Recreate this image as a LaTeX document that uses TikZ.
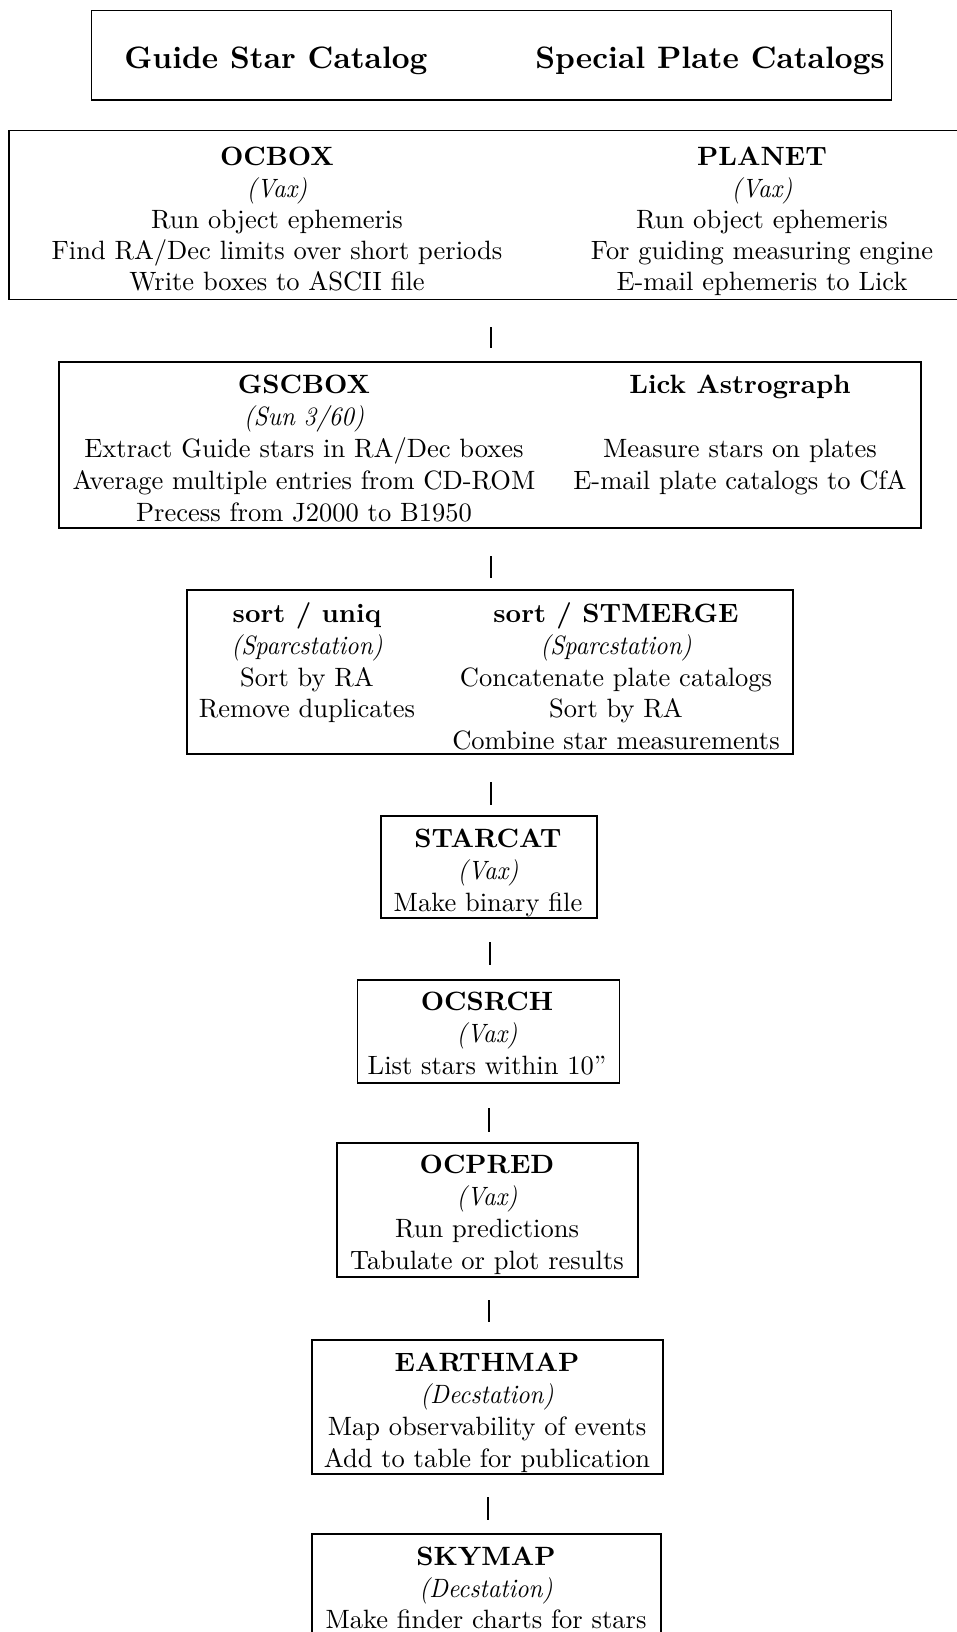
\documentclass[tikz,border=0pt]{standalone}
\usepackage{fontspec}
\newfontfamily\bodyrm{lmroman10-regular}[Extension=.otf, Ligatures=TeX]
\newfontfamily\bodyit{lmroman10-italic}[Extension=.otf, Ligatures=TeX, FakeStretch=0.93]
\newfontfamily\bodybf{lmroman10-bold}[Extension=.otf, Ligatures=TeX, FakeStretch=1.02]
\newfontfamily\titlebf{lmroman10-bold}[Extension=.otf, Ligatures=TeX]
\tikzset{
  box/.style={draw, line width=1.6pt, inner sep=0pt},
  ln/.style={anchor=base, inner sep=0pt, font=\bodyrm\fontsize{26.5}{31}\selectfont},
  hd/.style={anchor=base, inner sep=0pt, font=\bodybf\fontsize{26.5}{31}\selectfont},
  it/.style={anchor=base, inner sep=0pt, font=\bodyit\fontsize{26.5}{31}\selectfont},
  ttl/.style={anchor=base, inner sep=0pt, font=\titlebf\fontsize{31}{37}\selectfont},
  link/.style={line width=1.6pt},
}
\begin{document}
\begin{tikzpicture}[x=1pt,y=-1pt]
\useasboundingbox (0,0) rectangle (956,1632);
% boxes
\node[box, minimum width=800pt, minimum height=89.5pt] (top) at (491.5,55.25) {};
\node[box, minimum width=966pt, minimum height=169pt] (ocb) at (492,215) {};
\node[box, minimum width=862pt, minimum height=166pt] (gsc) at (490,445) {};
\node[box, minimum width=606pt, minimum height=164pt] (srt) at (490,672) {};
\node[box, minimum width=216pt, minimum height=102pt] (stc) at (489,867) {};
\node[box, minimum width=262pt, minimum height=103pt] (osr) at (488.5,1031.5) {};
\node[box, minimum width=301pt, minimum height=134pt] (opr) at (487.5,1210) {};
\node[box, minimum width=351pt, minimum height=134pt] (emp) at (487.5,1407) {};
\node[box, minimum width=349pt, minimum height=146pt] (smp) at (486.5,1607) {};
% top
\node[ttl] (gscat) at (276,69) {Guide Star Catalog};
\node[ttl] (spcat) at (710,69) {Special Plate Catalogs};
% ocbox / planet
\node[hd] (ocb1) at (277,166) {OCBOX};
\node[it] (ocb2) at (277,197) {(Vax)};
\node[ln] (ocb3) at (277,228) {Run object ephemeris};
\node[ln] (ocb4) at (277,259) {Find RA/Dec limits over short periods};
\node[ln] (ocb5) at (277,290) {Write boxes to ASCII file};
\node[hd] (pla1) at (762,166) {PLANET};
\node[it] (pla2) at (762,197) {(Vax)};
\node[ln] (pla3) at (762,228) {Run object ephemeris};
\node[ln] (pla4) at (762,259) {For guiding measuring engine};
\node[ln] (pla5) at (762,290) {E-mail ephemeris to Lick};
% gscbox / lick
\node[hd] (gs1) at (304,393) {GSCBOX};
\node[it] (gs2) at (304,425) {(Sun 3/60)};
\node[ln] (gs3) at (304,457) {Extract Guide stars in RA/Dec boxes};
\node[ln] (gs4) at (304,489) {Average multiple entries from CD-ROM};
\node[ln] (gs5) at (304,521) {Precess from J2000 to B1950};
\node[hd] (lk1) at (740,393) {Lick Astrograph};
\node[ln] (lk3) at (740,457) {Measure stars on plates};
\node[ln] (lk4) at (740,489) {E-mail plate catalogs to CfA};
% sort
\node[hd] (su1) at (307,622) {sort / uniq};
\node[it] (su2) at (307,654) {(Sparcstation)};
\node[ln] (su3) at (307,686) {Sort by RA};
\node[ln] (su4) at (307,717) {Remove duplicates};
\node[hd] (sm1) at (616,622) {sort / STMERGE};
\node[it] (sm2) at (616,654) {(Sparcstation)};
\node[ln] (sm3) at (616,686) {Concatenate plate catalogs};
\node[ln] (sm4) at (616,717) {Sort by RA};
\node[ln] (sm5) at (616,749) {Combine star measurements};
% starcat
\node[hd] (sc1) at (488,847) {STARCAT};
\node[it] (sc2) at (488,879) {(Vax)};
\node[ln] (sc3) at (488,911) {Make binary file};
% ocsrch
\node[hd] (os1) at (487,1010) {OCSRCH};
\node[it] (os2) at (487,1042) {(Vax)};
\node[ln] (os3) at (487,1074) {List stars within 10''};
% ocpred
\node[hd] (op1) at (487,1173) {OCPRED};
\node[it] (op2) at (487,1205) {(Vax)};
\node[ln] (op3) at (487,1237) {Run predictions};
\node[ln] (op4) at (487,1269) {Tabulate or plot results};
% earthmap
\node[hd] (em1) at (487,1371) {EARTHMAP};
\node[it] (em2) at (487,1403) {(Decstation)};
\node[ln] (em3) at (487,1435) {Map observability of events};
\node[ln] (em4) at (487,1467) {Add to table for publication};
% skymap
\node[hd] (sk1) at (486,1565) {SKYMAP};
\node[it] (sk2) at (486,1597) {(Decstation)};
\node[ln] (sk3) at (486,1628) {Make finder charts for stars};
% connectors
\coordinate (c1a) at (491,327); \coordinate (c1b) at (491,348);
\coordinate (c2a) at (491,556); \coordinate (c2b) at (491,578);
\coordinate (c3a) at (491,782); \coordinate (c3b) at (491,805);
\coordinate (c4a) at (490,942); \coordinate (c4b) at (490,965);
\coordinate (c5a) at (489,1108); \coordinate (c5b) at (489,1132);
\coordinate (c6a) at (489,1300); \coordinate (c6b) at (489,1322);
\coordinate (c7a) at (488,1497); \coordinate (c7b) at (488,1520);
\draw[link] (c1a) -- (c1b);
\draw[link] (c2a) -- (c2b);
\draw[link] (c3a) -- (c3b);
\draw[link] (c4a) -- (c4b);
\draw[link] (c5a) -- (c5b);
\draw[link] (c6a) -- (c6b);
\draw[link] (c7a) -- (c7b);
\end{tikzpicture}
\end{document}
